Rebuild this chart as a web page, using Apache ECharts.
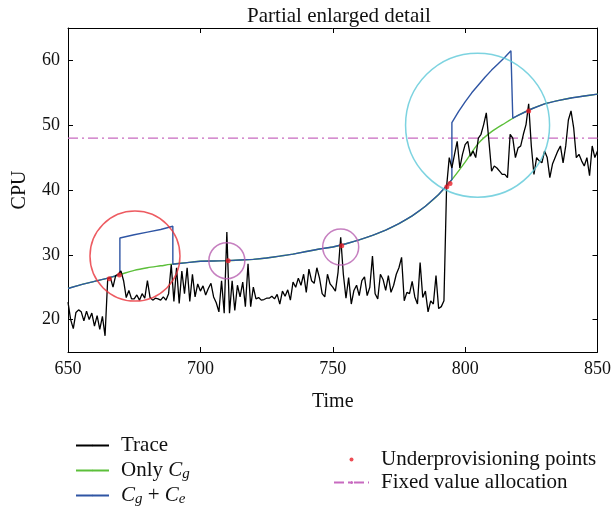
<!DOCTYPE html>
<html><head><meta charset="utf-8">
<script src="https://cdn.jsdelivr.net/npm/echarts@6/dist/echarts.min.js"></script>
<style>html,body{margin:0;padding:0;background:#fff}#c{width:614px;height:516px}</style>
</head><body><div id="c"></div>
<script>
// ---- data ----
const traceStart = 650;
const traceValues = [
22.7,20.0,18.6,21.1,21.5,21.2,19.8,21.3,20.0,21.0,
19.0,20.6,18.5,20.5,17.5,26.3,26.5,25.0,26.8,27.0,
27.5,26.0,23.4,24.5,23.2,23.2,23.8,23.0,24.0,23.3,
26.0,23.4,23.0,23.3,23.2,23.0,23.5,23.0,24.0,28.5,
22.8,28.0,22.5,27.5,24.0,28.0,22.8,27.0,23.5,25.5,
24.4,25.2,23.8,24.8,25.6,23.5,22.6,21.2,26.0,21.0,
33.5,21.0,26.0,21.4,25.3,23.5,25.8,22.0,28.6,22.0,
25.0,23.2,23.4,23.0,23.1,23.3,23.3,23.6,23.2,23.9,
22.4,24.4,23.6,24.6,23.0,25.8,25.0,26.4,25.3,27.0,
24.2,27.8,26.0,25.6,28.0,26.4,24.0,23.5,27.0,25.5,
25.0,24.4,27.3,32.7,27.0,23.3,26.5,22.4,24.5,25.3,
23.7,26.0,26.6,23.7,25.0,29.8,24.0,23.2,27.0,26.2,
24.5,26.8,24.2,25.3,27.0,28.0,29.6,22.9,24.2,24.0,
25.9,23.5,22.4,28.8,23.4,24.4,21.2,22.9,22.4,26.8,
21.7,22.0,22.9,40.5,45.0,43.4,45.5,47.5,43.4,45.5,
47.0,47.5,45.2,46.0,45.0,48.0,48.6,50.1,51.9,47.5,
42.9,43.7,43.4,42.9,42.4,42.4,41.9,48.6,48.0,45.0,
46.5,46.8,48.6,50.1,53.3,46.8,42.4,45.0,44.5,44.2,
46.0,45.0,41.9,44.0,45.0,46.0,46.8,44.2,46.8,50.8,
52.2,49.6,45.0,45.5,44.5,43.7,45.0,42.2,46.8,45.0,
46.0];
const curveTimes = [650,655,660,665,670,675,680,685,690,695,700,705,710,715,720,725,730,735,740,745,750,755,760,765,770,775,780,785,790,795,800,805,810,815,820,825,830,835,840,845,850];
const curveValues = [24.8,25.4,25.9,26.4,27.0,27.6,28.0,28.3,28.6,28.8,29.0,29.05,29.1,29.2,29.3,29.5,29.8,30.1,30.5,30.9,31.2,31.7,32.3,33.0,33.8,34.8,36.0,37.5,39.3,41.6,44.3,47.2,49.0,50.3,51.5,52.5,53.3,53.8,54.2,54.5,54.8];
const bump1 = [[669.6,26.95],[669.6,32.6],[675,33.1],[680,33.5],[685,33.9],[689.6,34.4],[689.6,28.55]];
const bump2 = [[795,41.6],[795,50.4],[797.5,52.1],[800,53.6],[802.5,55.0],[805,56.2],[807.5,57.4],[810,58.5],[812.5,59.5],[815,60.5],[817.3,61.5],[818,51.1]];
const underPoints = [[665.6,26.3],[669.4,26.9],[710.5,29.1],[753.4,31.4],[793.1,40.5],[794.3,41.0],[824,52.2]];
const fixedValue = 48;
const circleRed = [[675.3,29.8]];
const circlePurple = [[710,29.1],[753,31.2]];
const circleCyan = [[804.7,50.0]];
const xTicks = [650,700,750,800,850];
const yTicks = [20,30,40,50,60];

// ---- build ----
const trace = traceValues.map((v,i)=>[traceStart+i, v]);
const curve = curveTimes.map((t,i)=>[t, curveValues[i]]);
const blue = [].concat(
  curve.filter(p=>p[0]<669.6), bump1,
  curve.filter(p=>p[0]>689.6 && p[0]<795), bump2,
  curve.filter(p=>p[0]>818));
const fixed = [[650,fixedValue],[850,fixedValue]];

const SERIF = '"Liberation Serif","DejaVu Serif",serif';
const chart = echarts.init(document.getElementById('c'), null, {renderer:'canvas'});
const axisCommon = {
  axisLine:{show:true,lineStyle:{color:'#000',width:1}},
  axisTick:{show:true,inside:true,length:5,lineStyle:{color:'#000'}},
  splitLine:{show:false}
};
const rich = {
  n:{fontFamily:SERIF,fontSize:21,color:'#111',lineHeight:25},
  i:{fontFamily:SERIF,fontSize:21,fontStyle:'italic',color:'#111',lineHeight:25},
  s:{fontFamily:SERIF,fontSize:15,fontStyle:'italic',color:'#111',lineHeight:17,padding:[8,0,0,0]}
};
const legendNames = {
  'Trace':'{n|Trace}',
  'Only Cg':'{n|Only }{i|C}{s|g}',
  'Cg + Ce':'{i|C}{s|g}{n| + }{i|C}{s|e}'
};
chart.setOption({
  animation:false,
  title:{text:'Partial enlarged detail',left:334,top:1,textAlign:'center',
    textStyle:{fontFamily:SERIF,fontSize:21,fontWeight:'normal',color:'#111'}},
  grid:{left:68,right:16,top:28,bottom:164},
  legend:[
    {data:['Trace','Only Cg','Cg + Ce'],orient:'vertical',left:70,top:428,height:100,
     itemWidth:33,itemHeight:2,itemGap:0,
     formatter:n=>legendNames[n],
     textStyle:{fontFamily:SERIF,fontSize:21,color:'#111',lineHeight:25,padding:[0,0,0,7],rich:rich}},
    {data:['Underprovisioning points','Fixed value allocation'],orient:'vertical',left:328,top:443,height:80,
     itemWidth:35,itemHeight:4,itemGap:0,
     textStyle:{fontFamily:SERIF,fontSize:21,color:'#111',lineHeight:23,padding:[0,0,0,7]}}
  ],
  xAxis:[
    Object.assign({type:'value',min:650,max:850,interval:50,position:'bottom',
      name:'Time',nameLocation:'middle',nameGap:40,
      nameTextStyle:{fontFamily:SERIF,fontSize:20,color:'#111'},
      axisLabel:{fontFamily:SERIF,fontSize:18,color:'#111',margin:8}},axisCommon),
    Object.assign({type:'value',min:650,max:850,interval:50,position:'top',
      axisLabel:{show:false}},axisCommon)
  ],
  yAxis:[
    Object.assign({type:'value',min:15,max:65,position:'left',
      name:'CPU',nameLocation:'middle',nameGap:38,nameRotate:90,
      nameTextStyle:{fontFamily:SERIF,fontSize:20,color:'#111'},
      axisLabel:{fontFamily:SERIF,fontSize:18,color:'#111',margin:8,customValues:yTicks}},axisCommon,
      {axisTick:{show:true,inside:true,length:5,lineStyle:{color:'#000'},customValues:yTicks}}),
    Object.assign({type:'value',min:15,max:65,position:'right',
      axisLabel:{show:false}},axisCommon,
      {axisTick:{show:true,inside:true,length:5,lineStyle:{color:'#000'},customValues:yTicks}})
  ],
  series:[
    {name:'Only Cg',type:'line',data:curve,symbol:'none',smooth:0.3,
     lineStyle:{color:'#5cbf3a',width:1.4},itemStyle:{color:'#5cbf3a'},z:2},
    {name:'Cg + Ce',type:'line',data:blue,symbol:'none',
     lineStyle:{color:'#2f55a4',width:1.4},itemStyle:{color:'#2f55a4'},z:3},
    {name:'Trace',type:'line',data:trace,symbol:'none',
     lineStyle:{color:'#000',width:1.3},itemStyle:{color:'#000'},z:4},
    {name:'Fixed value allocation',type:'line',data:fixed,symbol:'none',
     lineStyle:{color:'#c86ac0',width:1.3,type:[10,4,2,4]},itemStyle:{color:'#c86ac0'},z:1},
    {name:'Underprovisioning points',type:'scatter',data:underPoints,symbol:'circle',symbolSize:5,
     itemStyle:{color:'#e8202a'},z:6},
    {name:'redCircle',type:'scatter',data:circleRed,symbol:'circle',symbolSize:90,silent:true,
     itemStyle:{color:'transparent',borderColor:'#e8323a',borderWidth:1.5},z:5},
    {name:'purpleCircle',type:'scatter',data:circlePurple,symbol:'circle',symbolSize:36,silent:true,
     itemStyle:{color:'transparent',borderColor:'#b860b0',borderWidth:1.5},z:5},
    {name:'cyanCircle',type:'scatter',data:circleCyan,symbol:'circle',symbolSize:144,silent:true,
     itemStyle:{color:'transparent',borderColor:'#5cc8d8',borderWidth:1.5},z:5}
  ]
});
</script></body></html>
